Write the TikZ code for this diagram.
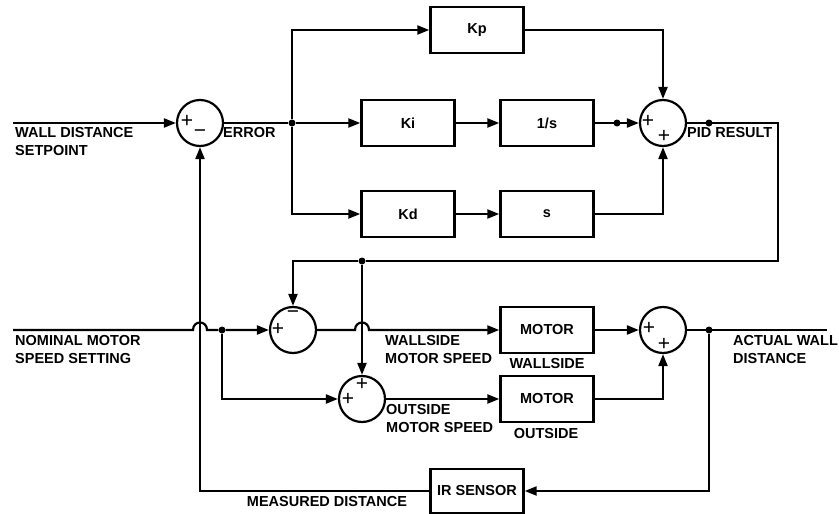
\documentclass[tikz,border=0pt]{standalone}
\usepackage{fontspec}
\setmainfont{Liberation Sans}
\usetikzlibrary{arrows.meta}

\tikzset{
  block/.style = {
    draw,
    line width     = 2.4pt,
    minimum width  = 93pt,
    minimum height = 46pt,
    inner sep      = 0pt,
    font           = \fontsize{14.5}{18}\selectfont\bfseries
  },
  sumnode/.style = {
    draw,
    circle,
    line width     = 2.2pt,
    minimum size   = 46pt,
    inner sep      = 0pt
  },
  sign/.style  = {inner sep=0pt, font=\fontsize{21}{24}\selectfont},
  lbl/.style   = {inner sep=0pt, align=left, font=\fontsize{14.5}{18}\selectfont\bfseries},
  wire/.style  = {line width=2.2pt},
  sig/.style   = {wire, -{Triangle[length=12pt,width=9pt]}},
  junct/.style = {circle, fill, inner sep=0pt, minimum size=7pt}
}

\begin{document}
\begin{tikzpicture}[x=1pt, y=-1pt]
  \useasboundingbox (0,0) rectangle (839,514);

  % summing junctions
  \node[sumnode] (sumerr) at (200,123) {};
  \node[sumnode] (sumpid) at (663,123) {};
  \node[sumnode] (sumwall) at (293,330) {};
  \node[sumnode] (sumout) at (362,399) {};
  \node[sumnode] (sumdist) at (663,330) {};

  \node[sign] at (187,121) {+};
  \node[sign] at (200,134) {−};
  \node[sign] at (648,121) {+};
  \node[sign] at (664,136) {+};
  \node[sign] at (293,315) {−};
  \node[sign] at (278,329) {+};
  \node[sign] at (362,384) {+};
  \node[sign] at (348,399) {+};
  \node[sign] at (649,328) {+};
  \node[sign] at (664,344) {+};

  % blocks
  \node[block] (kp) at (477,30) {Kp};
  \node[block] (ki) at (408,123) {Ki};
  \node[block] (integ) at (547,123) {1/s};
  \node[block] (kd) at (408,214) {Kd};
  \node[block] (deriv) at (547,214) {s};
  \node[block] (motwall) at (547,330) {MOTOR};
  \node[block] (motout) at (547,399) {MOTOR};
  \node[block, minimum height=44pt] (irsens) at (477,491) {IR SENSOR};

  % junction points
  \node[junct] (errdot) at (292,123) {};
  \node[junct] (intdot) at (617,123) {};
  \node[junct] (piddot) at (709,123) {};
  \node[junct] (fbdot) at (362,261) {};
  \node[junct] (nomdot) at (222,330) {};
  \node[junct] (outdot) at (709,330) {};
  \coordinate (setin) at (13,123);
  \coordinate (nomin) at (13,330);
  \coordinate (pidright) at (778,123);
  \coordinate (distend) at (827,330);

  % labels
  \node[lbl, anchor=west] (setlbl) at (15,142) {WALL DISTANCE\\SETPOINT};
  \node[lbl, anchor=west] (errlbl) at (223,133) {ERROR};
  \node[lbl, anchor=west] (pidlbl) at (687,133) {PID RESULT};
  \node[lbl, anchor=west] (nomlbl) at (15,350) {NOMINAL MOTOR\\SPEED SETTING};
  \node[lbl, anchor=west] (wspdlbl) at (385,350) {WALLSIDE\\MOTOR SPEED};
  \node[lbl, anchor=west] (ospdlbl) at (386,419) {OUTSIDE\\MOTOR SPEED};
  \node[lbl] (wallname) at (547,364) {WALLSIDE};
  \node[lbl] (outname) at (546,434) {OUTSIDE};
  \node[lbl, anchor=west] (actlbl) at (733,350) {ACTUAL WALL\\DISTANCE};
  \node[lbl] (measlbl) at (327,502) {MEASURED DISTANCE};

  % PID part
  \draw[sig] (setin) -- (sumerr.west);
  \draw[wire] (sumerr.east) -- (errdot);
  \draw[sig] (errdot) -- (ki.west);
  \draw[sig] (errdot) |- (kp.west);
  \draw[sig] (errdot) |- (kd.west);
  \draw[sig] (ki) -- (integ);
  \draw[sig] (kd) -- (deriv);
  \draw[sig] (integ.east) -- (sumpid.west);
  \draw[sig] (kp.east) -| (sumpid.north);
  \draw[sig] (deriv.east) -| (sumpid.south);

  % PID result to the motors
  \draw[wire] (sumpid.east) -- (pidright) |- (fbdot);
  \draw[sig] (fbdot) -| (sumwall.north);
  \draw[sig] (fbdot) -- (sumout.north);
  \draw[sig] (nomin) -- (193,330) .. controls (193,320) and (207,320) .. (207,330)
    -- (nomdot) -- (sumwall.west);
  \draw[sig] (nomdot) |- (sumout.west);
  \draw[sig] (sumwall.east) -- (355,330) .. controls (355,320) and (369,320) .. (369,330)
    -- (motwall.west);
  \draw[sig] (sumout.east) -- (motout.west);
  \draw[sig] (motwall.east) -- (sumdist.west);
  \draw[sig] (motout.east) -| (sumdist.south);

  % output and feedback
  \draw[wire] (sumdist.east) -- (distend);
  \draw[sig] (outdot) |- (irsens.east);
  \draw[sig] (irsens.west) -| (sumerr.south);
\end{tikzpicture}
\end{document}
